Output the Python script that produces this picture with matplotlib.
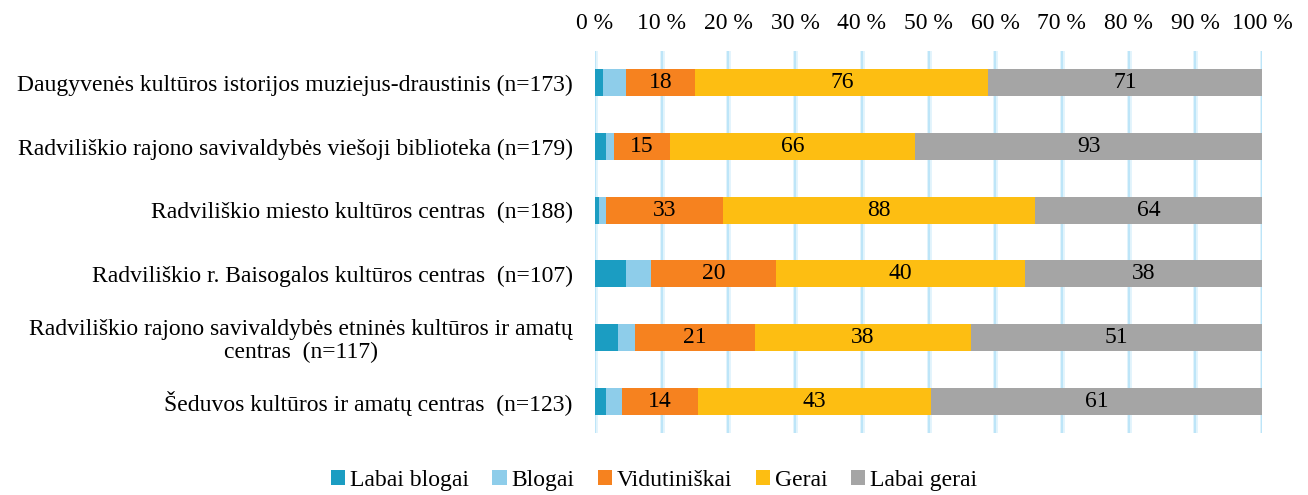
import matplotlib
matplotlib.use("Agg")
import matplotlib.pyplot as plt
import numpy as np

plt.rcParams['font.family'] = ['Liberation Serif', 'DejaVu Serif']

categories = [
    "Daugyvenės kultūros istorijos muziejus-draustinis (n=173)",
    "Radviliškio rajono savivaldybės viešoji biblioteka (n=179)",
    "Radviliškio miesto kultūros centras  (n=188)",
    "Radviliškio r. Baisogalos kultūros centras  (n=107)",
    "Radviliškio rajono savivaldybės etninės kultūros ir amatų\ncentras  (n=117)",
    "Šeduvos kultūros ir amatų centras  (n=123)",
]
series_names = ["Labai blogai", "Blogai", "Vidutiniškai", "Gerai", "Labai gerai"]
labai_blogai = [2, 3, 1, 5, 4, 2]
blogai = [6, 2, 2, 4, 3, 3]
vidutiniskai = [18, 15, 33, 20, 21, 14]
gerai = [76, 66, 88, 40, 38, 43]
labai_gerai = [71, 93, 64, 38, 51, 61]
show_labels = [False, False, True, True, True]
colors = ["#1B9DC2", "#8ECDEA", "#F6821F", "#FDBE12", "#A5A5A5"]
xticks = list(range(0, 101, 10))
xtick_labels = [f"{t} %" for t in xticks]

data = np.array([labai_blogai, blogai, vidutiniskai, gerai, labai_gerai], dtype=float)
totals = data.sum(axis=0)
pct = data / totals * 100

fig = plt.figure(figsize=(13.08, 4.95), dpi=100)
ax = fig.add_axes([595 / 1308, 1 - 433 / 495, (1262 - 595) / 1308, (433 - 51) / 495])

y = np.arange(len(categories))
left = np.zeros(len(categories))
for i, name in enumerate(series_names):
    ax.barh(y, pct[i], left=left, height=0.42, color=colors[i], label=name, zorder=3)
    if show_labels[i]:
        for j in range(len(categories)):
            ax.text(left[j] + pct[i][j] / 2, y[j], f"{int(data[i][j])}",
                    ha='center', va='center', fontsize=17, color='black', zorder=4)
    left += pct[i]

ax.set_xlim(0, 100)
ax.set_ylim(len(categories) - 0.5, -0.5)
ax.set_yticks(y)
ax.set_yticklabels(categories, fontsize=17, multialignment='center', linespacing=1.1)
ax.set_xticks(xticks)
ax.set_xticklabels(xtick_labels, fontsize=17)
ax.xaxis.tick_top()
ax.tick_params(axis='both', length=0)
ax.tick_params(axis='y', pad=16)
ax.tick_params(axis='x', pad=12)
for s in ax.spines.values():
    s.set_visible(False)
for t in xticks:
    ax.axvline(t, color="#E3F4FC", linewidth=3.5, zorder=1)
    ax.axvline(t, color="#BDE5F8", linewidth=1.5, zorder=2)

handles, labels = ax.get_legend_handles_labels()
fig.legend(handles, labels, loc='lower center', bbox_to_anchor=(0.5, -0.035), ncol=5,
           frameon=False, fontsize=17, handlelength=0.6, handleheight=0.6,
           handletextpad=0.2, columnspacing=1.0)

fig.savefig("out.png", dpi=100)
